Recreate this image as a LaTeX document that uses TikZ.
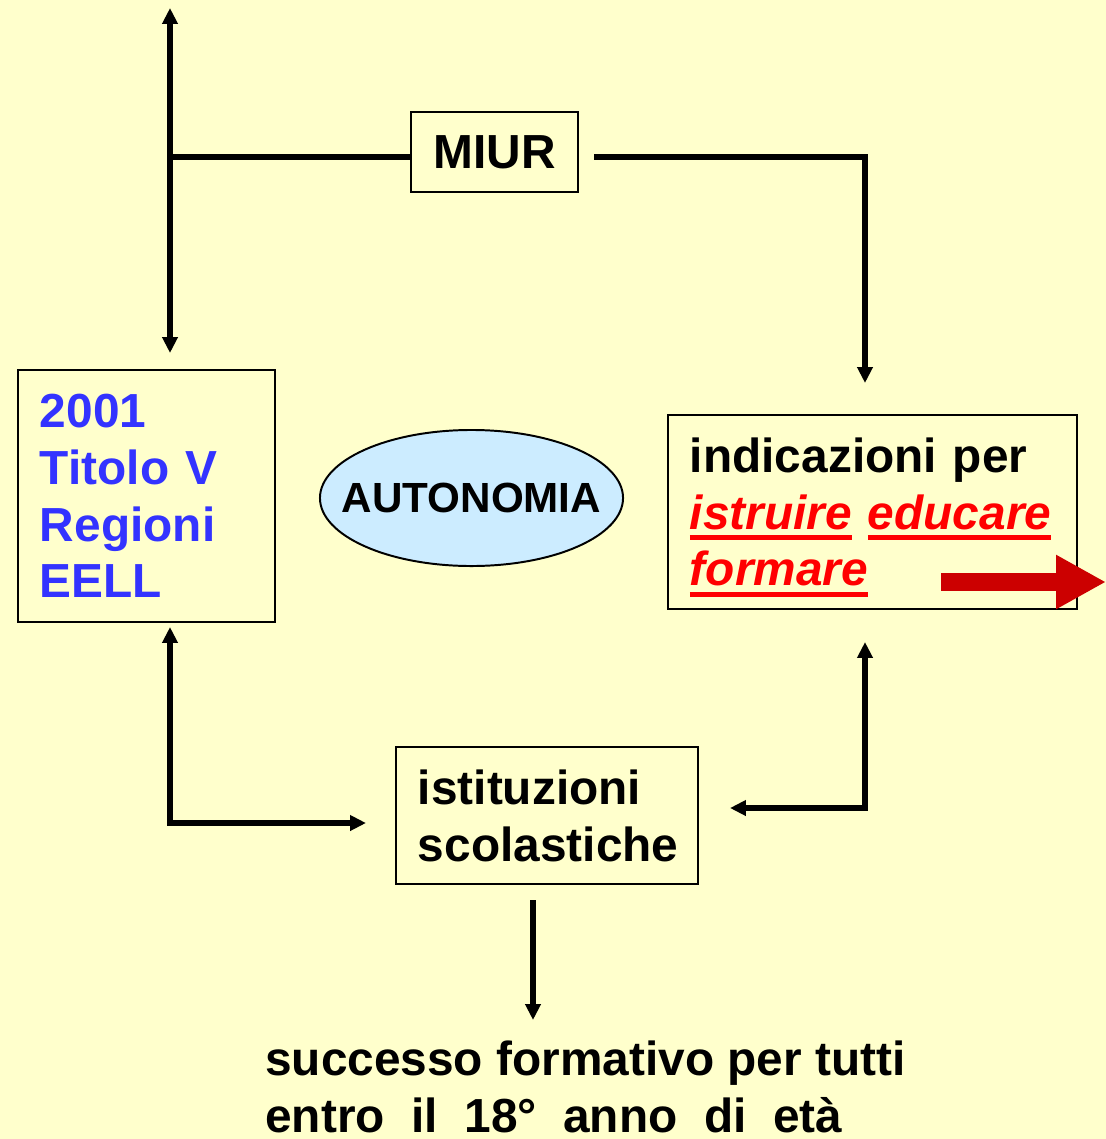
\documentclass[tikz,border=0pt]{standalone}
\usepackage{fontspec}
\setmainfont{Liberation Sans}
\usetikzlibrary{arrows.meta,shapes.geometric}
\definecolor{sfondo}{HTML}{FFFFCC}
\definecolor{blu}{HTML}{3333FF}
\definecolor{celeste}{HTML}{CCECFF}
\definecolor{rosso}{HTML}{FF0000}
\definecolor{rossoscuro}{HTML}{CC0000}
\newcommand{\grande}{\fontsize{34}{40.4}\selectfont\bfseries}
\newcommand{\medio}{\fontsize{30}{36}\selectfont\bfseries}
\newcommand{\sottolinea}[1]{\leavevmode\setbox0\hbox{\textit{#1}}%
  \rlap{\smash{\rule[-7.8pt]{\wd0}{3.5pt}}}\box0\relax}
\tikzset{ %line width = 4pt,
  >={Triangle[length=11.3pt,width=10.6pt]},
  {box/.style} ={draw, line width=1.4pt, fill=sfondo, inner sep=0pt, font=\grande},
  {text box/.style} ={box, align=left, inner xsep=0.55cm, text width=#1},
  {oval/.style} ={ellipse, draw, line width=1.4pt, fill=celeste},
  {link/.style} ={line width=4pt, line join=miter},
  {big arrow/.style} ={line width=12.8pt, rossoscuro,
                  -{Triangle[length=35.5pt,width=36pt]}},
}

\begin{document}
\begin{tikzpicture}[x=0.025cm,y=-0.025cm]
    \fill[sfondo] (0,0) rectangle (1106,1139);
    \useasboundingbox (0,0) rectangle (1106,1139);
    \node[box, minimum width=4.175cm, minimum height=2cm] (miur) at (494.5,152) {MIUR};
    \node[text box=5.325cm, minimum height=6.3cm, text=blu] (regioni) at (146.5,496)
    {2001\\Titolo V\\Regioni\\EELL};
    \node[oval, minimum width=7.575cm, minimum height=3.4cm,
          label={[font=\medio]center:AUTONOMIA}] (autonomia) at (471.5,498) {};
    \node[text box=9.125cm, minimum height=4.85cm] (indicazioni) at (872.5,512)
    {indicazioni per\\
    \mbox{\color{rosso}\sottolinea{istruire} \sottolinea{educare}}\\
    \mbox{\color{rosso}\sottolinea{formare}}};
    \node[text box=6.45cm, minimum height=3.425cm] (istituzioni) at (547,815.5)
    {istituzioni\\scolastiche};
    \node[font=\grande, align=left, anchor=north west, inner sep=0pt] (successo)
    at (265,1041) {successo formativo per tutti\\entro\ \ il\ \ 18°\ \ anno\ \ di\ \ età};
    % free ends of the connectors
    \coordinate (incrocio) at (170,157);
    \coordinate (alto) at (170,8);
    \coordinate (sopra regioni) at (170,353);
    \coordinate (destra miur) at (594,157);
    \coordinate (sopra indicazioni) at (865,383);
    \coordinate (sotto indicazioni) at (865,642);
    \coordinate (destra istituzioni) at (730,808);
    \coordinate (sotto regioni) at (170,627);
    \coordinate (sinistra istituzioni) at (366,823);
    \coordinate (sotto istituzioni) at (533,900);
    \coordinate (sopra successo) at (533,1020);
    \coordinate (coda) at (941,582);
    \coordinate (punta) at (1106,582);
    \draw[link] (incrocio) -- (incrocio -| miur.west);
    \draw[link,<->] (alto) -- (sopra regioni);
    \draw[link,->] (destra miur) -| (sopra indicazioni);
    \draw[link,<->] (sotto indicazioni) |- (destra istituzioni);
    \draw[link,<->] (sotto regioni) |- (sinistra istituzioni);
    \draw[link,->] (sotto istituzioni) -- (sopra successo);
    \draw[big arrow] (coda) -- (punta);
\end{tikzpicture}
\end{document}
